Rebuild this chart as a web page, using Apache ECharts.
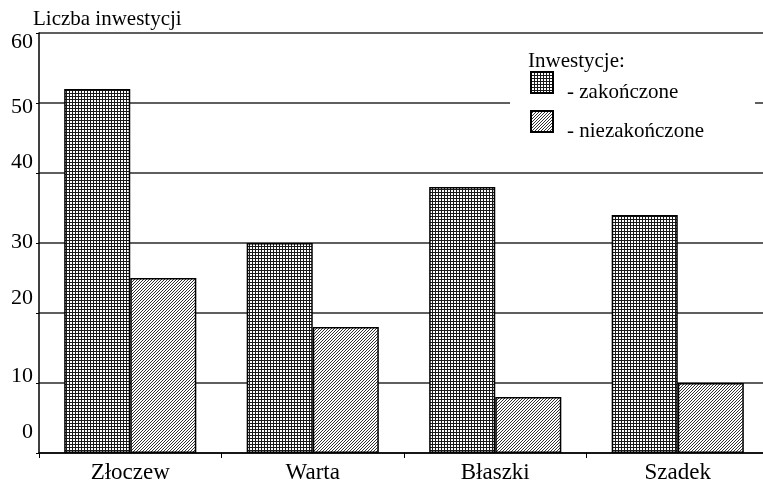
<!DOCTYPE html>
<html>
<head>
<meta charset="utf-8">
<script src="https://cdn.jsdelivr.net/npm/echarts@6/dist/echarts.min.js"></script>
<style>
  html, body { margin: 0; padding: 0; background: #fff; }
  #chart { width: 763px; height: 482px; }
</style>
</head>
<body>
<div id="chart"></div>
<script>
// dane
const miasta = ['Złoczew', 'Warta', 'Błaszki', 'Szadek'];
const zakonczone = [52, 30, 38, 34];
const niezakonczone = [25, 18, 8, 10];
const yTicks = [0, 10, 20, 30, 40, 50, 60];

const FONT = '"Liberation Serif", "Times New Roman", serif';

// wzór kratki (zakończone)
function wzorKratka() {
    const c = document.createElement('canvas');
    c.width = 3; c.height = 3;
    const ctx = c.getContext('2d');
    ctx.fillStyle = '#fff';
    ctx.fillRect(0, 0, 3, 3);
    ctx.fillStyle = '#1a1a1a';
    ctx.fillRect(0, 0, 3, 1);
    ctx.fillRect(0, 0, 1, 3);
    return { image: c, repeat: 'repeat' };
}

// wzór ukośnych kresek (niezakończone)
function wzorSkos() {
    const c = document.createElement('canvas');
    c.width = 3; c.height = 3;
    const ctx = c.getContext('2d');
    ctx.fillStyle = '#fff';
    ctx.fillRect(0, 0, 3, 3);
    ctx.fillStyle = '#333';
    ctx.fillRect(2, 0, 1, 1);
    ctx.fillRect(1, 1, 1, 1);
    ctx.fillRect(0, 2, 1, 1);
    return { image: c, repeat: 'repeat' };
}

// etykiety osi Y w oryginale nie leżą równo na liniach
const przesuniecie = { 0: -21, 10: -7, 20: -15, 30: -1, 40: -11, 50: 4, 60: 9 };
const richY = {};
yTicks.forEach(v => {
    const s = przesuniecie[v] || 0;
    richY['s' + v] = {
        fontFamily: FONT, fontSize: 22, color: '#000',
        padding: [Math.max(0, 2 * s), 0, Math.max(0, -2 * s), 0]
    };
});

const chart = echarts.init(document.getElementById('chart'), null, { renderer: 'canvas' });

const option = {
    animation: false,
    backgroundColor: '#fff',
    title: [
        { text: 'Liczba inwestycji', left: 33, top: 9, padding: 0,
          textStyle: { fontFamily: FONT, fontSize: 21, fontWeight: 'normal', color: '#000' } },
        { text: 'Inwestycje:', left: 528, top: 51, padding: 0, z: 30,
          textStyle: { fontFamily: FONT, fontSize: 21, fontWeight: 'normal', color: '#000' } }
    ],
    graphic: [{
        type: 'rect', z: 20,
        shape: { x: 510, y: 45, width: 245, height: 108 },
        style: { fill: '#fff' }
    }],
    legend: {
        orient: 'vertical', left: 530, top: 71, z: 30, padding: 0,
        icon: 'rect',
        itemWidth: 22, itemHeight: 21, itemGap: 7,
        formatter: n => '{t|- ' + n + '}',
        textStyle: {
            fontFamily: FONT, fontSize: 21, color: '#000',
            rich: { t: { fontFamily: FONT, fontSize: 21, color: '#000', padding: [20, 0, 0, 9] } }
        },
        data: ['zakończone', 'niezakończone']
    },
    grid: { left: 39, right: -6, top: 33, bottom: 29, outerBoundsMode: 'none', containLabel: false },
    xAxis: {
        type: 'category',
        data: miasta,
        axisLine: { lineStyle: { color: '#000', width: 1.5 } },
        axisTick: { show: true, length: 5, lineStyle: { color: '#000' } },
        axisLabel: { fontFamily: FONT, fontSize: 23, color: '#000', margin: 8 },
        splitLine: { show: false }
    },
    yAxis: {
        type: 'value', min: 0, max: 60, interval: 10,
        axisLine: { show: true, lineStyle: { color: '#000', width: 1.5 } },
        axisTick: { show: true, inside: false, length: 3, lineStyle: { color: '#000' } },
        axisLabel: {
            margin: 6,
            formatter: v => '{s' + v + '|' + v + '}',
            rich: richY
        },
        splitLine: { show: true, lineStyle: { color: '#2a2a2a', width: 1.5 } }
    },
    series: [
        {
            name: 'zakończone', type: 'bar', data: zakonczone,
            barGap: '0%', barCategoryGap: '27.6%',
            itemStyle: { color: wzorKratka(), borderColor: '#000', borderWidth: 1.5 }
        },
        {
            name: 'niezakończone', type: 'bar', data: niezakonczone,
            itemStyle: { color: wzorSkos(), borderColor: '#000', borderWidth: 1.5 }
        }
    ]
};

chart.setOption(option);
</script>
</body>
</html>
